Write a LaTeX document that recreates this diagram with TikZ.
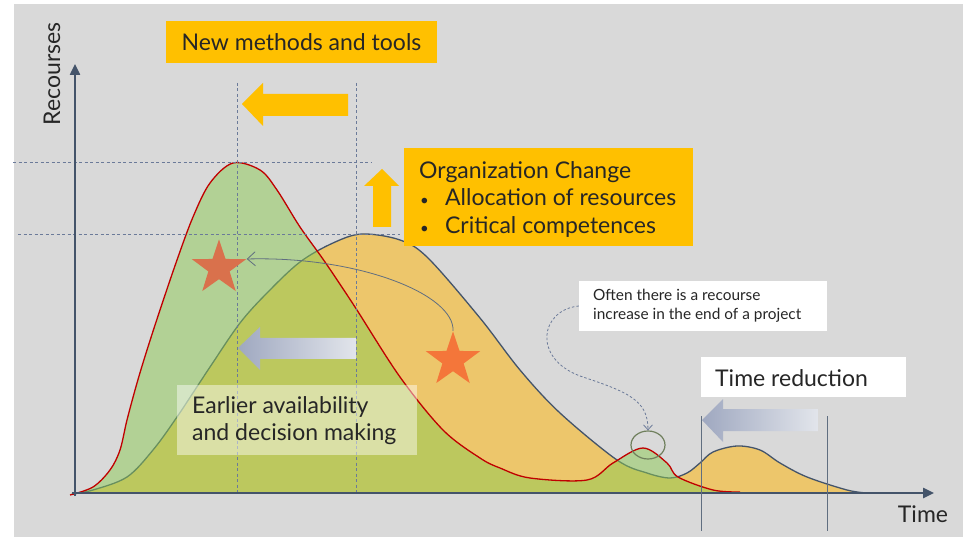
\documentclass[tikz,border=0pt]{standalone}
\usepackage{fontspec}
\setmainfont{Lato}
\usetikzlibrary{shapes.geometric,arrows.meta}
\definecolor{bg}{HTML}{D9D9D9}
\definecolor{ygold}{HTML}{FFC000}
\definecolor{orfill}{HTML}{EDC66B}
\definecolor{grfill}{HTML}{8DCB53}
\definecolor{redline}{HTML}{C00000}
\definecolor{navy}{HTML}{44546A}
\definecolor{dashc}{HTML}{6B7A99}
\definecolor{txt}{HTML}{262626}
\definecolor{starA}{HTML}{D9714C}
\definecolor{starB}{HTML}{F4763A}
\definecolor{gradL}{HTML}{9FA8C0}
\definecolor{gradR}{HTML}{E2E5EB}
\definecolor{olivec}{HTML}{6F7F5C}
\newcommand{\smallbul}{\makebox[26pt][l]{\hspace{1pt}{\fontsize{15}{15}\selectfont\textbullet}}}
\tikzset{
  ybox/.style={fill=ygold, text=txt, inner sep=0pt},
  wbox/.style={fill=white, text=txt, inner sep=0pt},
  guide/.style={draw=dashc, line width=0.7pt, dash pattern=on 3pt off 2.5pt},
  axisline/.style={draw=navy, line width=2.4pt, -{Triangle[length=11pt,width=10pt]}},
  starshape/.style={star, star points=5, star point ratio=2.55, minimum size=57pt, inner sep=0pt},
  thinarrow/.style={draw=navy!85, line width=0.8pt, -{Straight Barb[length=8pt,width=14pt]}},
  lbl/.style={text=txt, inner sep=0pt}
}
\begin{document}
\begin{tikzpicture}[x=1pt,y=-1pt]
\useasboundingbox (0,0) rectangle (967,537);
\fill[white] (0,0) rectangle (967,537);
\fill[bg] (14,4) rectangle (963,537);

% orange area under the later curve
\fill[orfill] plot[smooth, tension=0.55] coordinates {(72,494) (93,490) (127,477) (153,450) (177,417) (210,367) (240,323) (267,293) (300,262) (333,243) (362,234) (400,240) (428,258) (480,318) (520,370) (560,413) (617,460) (647,473) (670,478) (687,473) (700,463) (713,452) (737,446) (760,450) (780,463) (807,477) (847,490) (867,493)} -- (72,493) -- cycle;
\draw[navy, line width=1.3pt] plot[smooth, tension=0.55] coordinates {(72,494) (93,490) (127,477) (153,450) (177,417) (210,367) (240,323) (267,293) (300,262) (333,243) (362,234) (400,240) (428,258) (480,318) (520,370) (560,413) (617,460) (647,473) (670,478) (687,473) (700,463) (713,452) (737,446) (760,450) (780,463) (807,477) (847,490) (867,493)};

% green area under the early curve
\fill[grfill, opacity=0.5] plot[smooth, tension=0.55] coordinates {(70,495) (93,487) (110,470) (120,450) (127,420) (137,383) (147,350) (160,310) (177,260) (193,217) (210,183) (233,163) (260,170) (277,190) (300,227) (325,262) (355,307) (400,377) (443,430) (480,458) (500,468) (530,478) (587,480) (613,463) (643,448) (667,463) (678,477) (713,490) (740,492)} -- (72,493) -- cycle;
\draw[redline, line width=1.3pt] plot[smooth, tension=0.55] coordinates {(70,495) (93,487) (110,470) (120,450) (127,420) (137,383) (147,350) (160,310) (177,260) (193,217) (210,183) (233,163) (260,170) (277,190) (300,227) (325,262) (355,307) (400,377) (443,430) (480,458) (500,468) (530,478) (587,480) (613,463) (643,448) (667,463) (678,477) (713,490) (740,492)};

% guide lines
\draw[guide] (13,162) -- (372,162);
\draw[guide] (18,234) -- (400,234);
\draw[guide] (237,83) -- (237,493);
\draw[guide] (356,83) -- (356,493);

% axes
\coordinate (origin) at (75,496);
\coordinate (ytip) at (75,64);
\coordinate (xorigin) at (72,493);
\coordinate (xtip) at (934,493);
\draw[axisline] (origin) -- (ytip);
\draw[axisline] (xorigin) -- (xtip);
\node[lbl, rotate=90, font=\fontsize{23}{27}\selectfont] (ylab) at (52,74) {Recourses};
\node[lbl, font=\fontsize{23}{27}\selectfont] (xlab) at (923,514) {Time};

% time reduction markers
\draw[navy!85, line width=0.8pt] (701,416) -- (701,531);
\draw[navy!85, line width=0.8pt] (827,416) -- (827,531);

% block arrows
\fill[ygold] (348,94) -- (263,94) -- (263,83) -- (242,104) -- (263,126) -- (263,116) -- (348,116) -- cycle;
\fill[ygold] (373,227) -- (373,186) -- (364,186) -- (382,169) -- (399,186) -- (391,186) -- (391,227) -- cycle;
\shade[left color=gradL, right color=gradR] (356,338) -- (260,338) -- (260,327) -- (238,348) -- (260,370) -- (260,359) -- (356,359) -- cycle;
\shade[left color=gradL, right color=gradR] (818,409) -- (723,409) -- (723,399) -- (702,420) -- (723,442) -- (723,431) -- (818,431) -- cycle;

% stars and the curved arrow between them
\node[starshape, fill=starA] (s1) at (219,268) {};
\node[starshape, fill=starB] (s2) at (453,360) {};
\draw[thinarrow] (s2.north) .. controls (455,295) and (360,256) .. (s1.18);

% callout
\node[wbox, minimum width=248pt, minimum height=50pt] (co) at (703,306) {};
\node[lbl, anchor=west, align=left, font=\fontsize{15.4}{19}\selectfont] (cotext) at (593,306) {Often there is a recourse\\increase in the end of a project};
\node[ellipse, draw=olivec, line width=1.2pt, minimum width=34pt, minimum height=28pt, inner sep=0pt] (el) at (648,445) {};
\draw[draw=dashc, line width=0.8pt, dash pattern=on 2.5pt off 2pt, -{Straight Barb[length=5pt,width=9pt]}] (co.west) .. controls (540,310) and (532,358) .. (580,376) .. controls (628,392) and (648,400) .. (el.north);

% text boxes
\node[ybox, minimum width=271pt, minimum height=42pt, font=\fontsize{23}{27}\selectfont] (nm) at (301.5,42) {New methods and tools};
\node[ybox, minimum width=289pt, minimum height=98pt] (oc) at (548.5,197) {};
\node[lbl, anchor=west, align=left, font=\fontsize{23}{27.5}\selectfont] (octext) at (419,199.5) {Organization Change\\\smallbul Allocation of resources\\\smallbul Critical competences};
\node[fill=white, fill opacity=0.45, minimum width=240pt, minimum height=70pt, inner sep=0pt] (eb) at (297,420) {};
\node[lbl, anchor=west, align=left, font=\fontsize{23}{27}\selectfont] (ebtext) at (192,420.5) {Earlier availability\\and decision making};
\node[wbox, minimum width=205pt, minimum height=40pt] (tr) at (803.5,377) {};
\node[lbl, anchor=west, font=\fontsize{23}{27}\selectfont] (trtext) at (715,378) {Time reduction};
\end{tikzpicture}
\end{document}
